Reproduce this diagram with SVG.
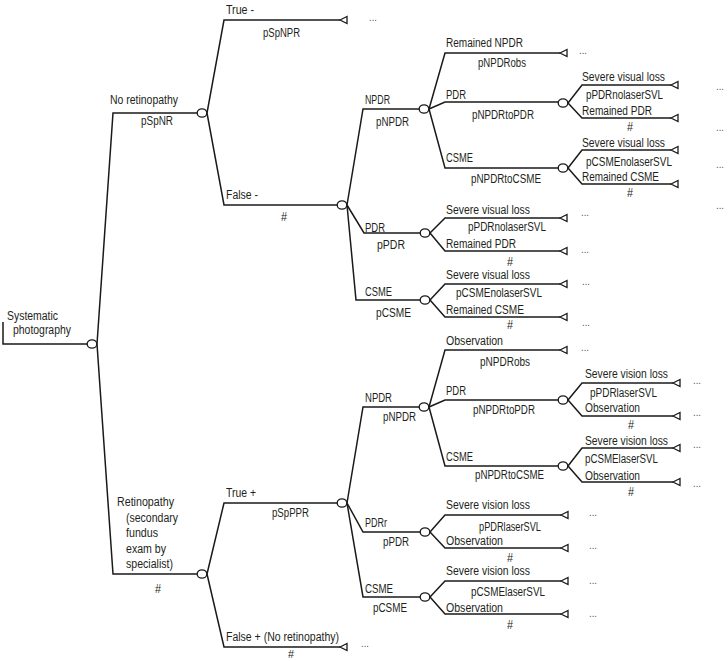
<svg xmlns="http://www.w3.org/2000/svg" xmlns:xlink="http://www.w3.org/1999/xlink" width="728" height="661" viewBox="0 0 728 661">
<style>
  .bg{fill:#ffffff}
  .c{fill:none;stroke:#1a1a1a;stroke-width:1.5;stroke-linejoin:miter}
  .ch{fill:#ffffff;stroke:#1a1a1a;stroke-width:1.3}
  .tm{fill:#ffffff;stroke:#1a1a1a;stroke-width:1.3;stroke-linejoin:miter}
  text{font-family:"Liberation Sans","Arial",sans-serif;font-size:12.5px;fill:#231f20}
  .d{font-size:11px;fill:#555555}
  .s{font-size:11px}
</style>
<defs>
  <path id="tri" d="M0,0 L7,-3.5 L7,3.5 Z"/>
  <ellipse id="chance" cx="0" cy="0" rx="4.8" ry="4.2"/>
</defs>
<rect class="bg" x="0" y="0" width="728" height="661"/>

<g id="connectors">
  <path class="c" d="M3,322 V344 H87"/>
  <path class="c" d="M97,344 L113,113 H197"/>
  <path class="c" d="M97,344 L113,574 H197"/>
  <path class="c" d="M207,113 L224,20 H340"/>
  <path class="c" d="M207,113 L224,205 H337"/>
  <path class="c" d="M347,205 L363,109 H419"/>
  <path class="c" d="M347,205 L364,233 H420"/>
  <path class="c" d="M347,205 L356,300 H420"/>
  <path class="c" d="M429,109 L445,53 H560"/>
  <path class="c" d="M429,109 L445,102 H558"/>
  <path class="c" d="M429,109 L445,168 H558"/>
  <path class="c" d="M568,103 L582,85 H671"/>
  <path class="c" d="M568,103 L582,118 H671"/>
  <path class="c" d="M568,168 L582,150 H671"/>
  <path class="c" d="M568,168 L582,184 H671"/>
  <path class="c" d="M430,233 L445,218 H560"/>
  <path class="c" d="M430,233 L445,251 H560"/>
  <path class="c" d="M430,300 L445,284 H560"/>
  <path class="c" d="M430,300 L445,317 H560"/>
  <path class="c" d="M207,574 L224,503 H337"/>
  <path class="c" d="M207,574 L224,647 H340"/>
  <path class="c" d="M347,503 L363,407 H419"/>
  <path class="c" d="M347,503 L363,532 H420"/>
  <path class="c" d="M347,503 L363,597 H420"/>
  <path class="c" d="M429,407 L445,350 H560"/>
  <path class="c" d="M429,407 L445,400 H558"/>
  <path class="c" d="M429,407 L445,466 H558"/>
  <path class="c" d="M568,400 L582,383 H673"/>
  <path class="c" d="M568,400 L582,416 H673"/>
  <path class="c" d="M568,466 L582,448 H673"/>
  <path class="c" d="M568,466 L582,482 H673"/>
  <path class="c" d="M430,532 L445,515 H561"/>
  <path class="c" d="M430,532 L445,548 H561"/>
  <path class="c" d="M430,597 L445,581 H561"/>
  <path class="c" d="M430,597 L445,614 H561"/>
</g>

<g id="labels">
  <text x="7" y="320" textLength="51" lengthAdjust="spacingAndGlyphs">Systematic</text>
  <text x="13" y="334" textLength="58" lengthAdjust="spacingAndGlyphs">photography</text>

  <text x="110" y="104" textLength="68" lengthAdjust="spacingAndGlyphs">No retinopathy</text>
  <text x="141" y="125" textLength="32" lengthAdjust="spacingAndGlyphs">pSpNR</text>
  <text x="226" y="14" textLength="28" lengthAdjust="spacingAndGlyphs">True -</text>
  <text x="263" y="37" textLength="37" lengthAdjust="spacingAndGlyphs">pSpNPR</text>
  <text x="226" y="199" textLength="32" lengthAdjust="spacingAndGlyphs">False -</text>
  <text x="281" y="221" textLength="6" lengthAdjust="spacingAndGlyphs">#</text>

  <text x="365" y="104" textLength="25" lengthAdjust="spacingAndGlyphs">NPDR</text>
  <text x="376" y="126" textLength="33" lengthAdjust="spacingAndGlyphs">pNPDR</text>
  <text x="365" y="232" textLength="20" lengthAdjust="spacingAndGlyphs">PDR</text>
  <text x="377" y="249" textLength="28" lengthAdjust="spacingAndGlyphs">pPDR</text>
  <text x="365" y="296" textLength="27" lengthAdjust="spacingAndGlyphs">CSME</text>
  <text x="376" y="317" textLength="35" lengthAdjust="spacingAndGlyphs">pCSME</text>

  <text x="446" y="47" textLength="77" lengthAdjust="spacingAndGlyphs">Remained NPDR</text>
  <text x="478" y="67" textLength="48" lengthAdjust="spacingAndGlyphs">pNPDRobs</text>
  <text x="446" y="99" textLength="20" lengthAdjust="spacingAndGlyphs">PDR</text>
  <text x="472" y="119" textLength="62" lengthAdjust="spacingAndGlyphs">pNPDRtoPDR</text>
  <text x="446" y="162" textLength="27" lengthAdjust="spacingAndGlyphs">CSME</text>
  <text x="471" y="183" textLength="70" lengthAdjust="spacingAndGlyphs">pNPDRtoCSME</text>

  <text x="582" y="81" textLength="83" lengthAdjust="spacingAndGlyphs">Severe visual loss</text>
  <text x="586" y="99" textLength="77" lengthAdjust="spacingAndGlyphs">pPDRnolaserSVL</text>
  <text x="582" y="115" textLength="70" lengthAdjust="spacingAndGlyphs">Remained PDR</text>
  <text x="627" y="131" textLength="6" lengthAdjust="spacingAndGlyphs">#</text>
  <text x="582" y="147" textLength="83" lengthAdjust="spacingAndGlyphs">Severe visual loss</text>
  <text x="586" y="166" textLength="86" lengthAdjust="spacingAndGlyphs">pCSMEnolaserSVL</text>
  <text x="582" y="181" textLength="77" lengthAdjust="spacingAndGlyphs">Remained CSME</text>
  <text x="627" y="197" textLength="6" lengthAdjust="spacingAndGlyphs">#</text>

  <text x="446" y="214" textLength="84" lengthAdjust="spacingAndGlyphs">Severe visual loss</text>
  <text x="468" y="231" textLength="78" lengthAdjust="spacingAndGlyphs">pPDRnolaserSVL</text>
  <text x="446" y="248" textLength="70" lengthAdjust="spacingAndGlyphs">Remained PDR</text>
  <text x="507" y="266" textLength="6" lengthAdjust="spacingAndGlyphs">#</text>
  <text x="446" y="279" textLength="84" lengthAdjust="spacingAndGlyphs">Severe visual loss</text>
  <text x="456" y="297" textLength="86" lengthAdjust="spacingAndGlyphs">pCSMEnolaserSVL</text>
  <text x="446" y="314" textLength="78" lengthAdjust="spacingAndGlyphs">Remained CSME</text>
  <text x="507" y="329" textLength="6" lengthAdjust="spacingAndGlyphs">#</text>

  <text x="117" y="506" textLength="57" lengthAdjust="spacingAndGlyphs">Retinopathy</text>
  <text x="126" y="522" textLength="52" lengthAdjust="spacingAndGlyphs">(secondary</text>
  <text x="126" y="537" textLength="32" lengthAdjust="spacingAndGlyphs">fundus</text>
  <text x="126" y="553" textLength="40" lengthAdjust="spacingAndGlyphs">exam by</text>
  <text x="126" y="568" textLength="47" lengthAdjust="spacingAndGlyphs">specialist)</text>
  <text x="155" y="593" textLength="6" lengthAdjust="spacingAndGlyphs">#</text>
  <text x="226" y="497" textLength="30" lengthAdjust="spacingAndGlyphs">True +</text>
  <text x="272" y="517" textLength="37" lengthAdjust="spacingAndGlyphs">pSpPPR</text>
  <text x="226" y="641" textLength="113" lengthAdjust="spacingAndGlyphs">False + (No retinopathy)</text>
  <text class="s" x="288" y="658" textLength="6" lengthAdjust="spacingAndGlyphs">#</text>

  <text x="365" y="402" textLength="27" lengthAdjust="spacingAndGlyphs">NPDR</text>
  <text x="383" y="421" textLength="33" lengthAdjust="spacingAndGlyphs">pNPDR</text>
  <text x="365" y="527" textLength="22" lengthAdjust="spacingAndGlyphs">PDRr</text>
  <text x="383" y="546" textLength="26" lengthAdjust="spacingAndGlyphs">pPDR</text>
  <text x="365" y="593" textLength="28" lengthAdjust="spacingAndGlyphs">CSME</text>
  <text x="373" y="612" textLength="34" lengthAdjust="spacingAndGlyphs">pCSME</text>

  <text x="446" y="345" textLength="57" lengthAdjust="spacingAndGlyphs">Observation</text>
  <text x="480" y="366" textLength="50" lengthAdjust="spacingAndGlyphs">pNPDRobs</text>
  <text x="446" y="395" textLength="20" lengthAdjust="spacingAndGlyphs">PDR</text>
  <text x="473" y="414" textLength="62" lengthAdjust="spacingAndGlyphs">pNPDRtoPDR</text>
  <text x="446" y="461" textLength="27" lengthAdjust="spacingAndGlyphs">CSME</text>
  <text x="475" y="479" textLength="69" lengthAdjust="spacingAndGlyphs">pNPDRtoCSME</text>

  <text x="585" y="378" textLength="83" lengthAdjust="spacingAndGlyphs">Severe vision loss</text>
  <text x="590" y="397" textLength="67" lengthAdjust="spacingAndGlyphs">pPDRlaserSVL</text>
  <text x="585" y="412" textLength="55" lengthAdjust="spacingAndGlyphs">Observation</text>
  <text x="628" y="429" textLength="6" lengthAdjust="spacingAndGlyphs">#</text>
  <text x="585" y="445" textLength="83" lengthAdjust="spacingAndGlyphs">Severe vision loss</text>
  <text x="585" y="463" textLength="73" lengthAdjust="spacingAndGlyphs">pCSMElaserSVL</text>
  <text x="585" y="480" textLength="55" lengthAdjust="spacingAndGlyphs">Observation</text>
  <text x="628" y="496" textLength="6" lengthAdjust="spacingAndGlyphs">#</text>

  <text x="446" y="509" textLength="84" lengthAdjust="spacingAndGlyphs">Severe vision loss</text>
  <text x="479" y="531" textLength="62" lengthAdjust="spacingAndGlyphs">pPDRlaserSVL</text>
  <text x="446" y="545" textLength="57" lengthAdjust="spacingAndGlyphs">Observation</text>
  <text x="507" y="562" textLength="6" lengthAdjust="spacingAndGlyphs">#</text>
  <text x="446" y="575" textLength="84" lengthAdjust="spacingAndGlyphs">Severe vision loss</text>
  <text x="471" y="596" textLength="74" lengthAdjust="spacingAndGlyphs">pCSMElaserSVL</text>
  <text x="446" y="612" textLength="57" lengthAdjust="spacingAndGlyphs">Observation</text>
  <text x="507" y="629" textLength="6" lengthAdjust="spacingAndGlyphs">#</text>
</g>

<g id="chance-nodes">
  <g id="n-root"><use href="#chance" class="ch" x="92" y="344"/></g>
  <g id="n-noretino"><use href="#chance" class="ch" x="202" y="113"/></g>
  <g id="n-false-neg"><use href="#chance" class="ch" x="342" y="205"/></g>
  <g id="n-npdr1"><use href="#chance" class="ch" x="424" y="109"/></g>
  <g id="n-npdr1-pdr"><use href="#chance" class="ch" x="563" y="103"/></g>
  <g id="n-npdr1-csme"><use href="#chance" class="ch" x="563" y="168"/></g>
  <g id="n-pdr1"><use href="#chance" class="ch" x="425" y="233"/></g>
  <g id="n-csme1"><use href="#chance" class="ch" x="425" y="300"/></g>
  <g id="n-retino"><use href="#chance" class="ch" x="202" y="574"/></g>
  <g id="n-true-pos"><use href="#chance" class="ch" x="342" y="503"/></g>
  <g id="n-npdr2"><use href="#chance" class="ch" x="424" y="407"/></g>
  <g id="n-npdr2-pdr"><use href="#chance" class="ch" x="563" y="400"/></g>
  <g id="n-npdr2-csme"><use href="#chance" class="ch" x="563" y="466"/></g>
  <g id="n-pdr2"><use href="#chance" class="ch" x="425" y="532"/></g>
  <g id="n-csme2"><use href="#chance" class="ch" x="425" y="597"/></g>
</g>

<g id="terminal-nodes">
  <g id="t1"><use href="#tri" class="tm" x="340" y="20"/><text class="d" x="369" y="21" textLength="8" lengthAdjust="spacingAndGlyphs">...</text></g>
  <g id="t2"><use href="#tri" class="tm" x="560" y="53"/><text class="d" x="579" y="54" textLength="8" lengthAdjust="spacingAndGlyphs">...</text></g>
  <g id="t3"><use href="#tri" class="tm" x="671" y="85"/><text class="d" x="716" y="90" textLength="8" lengthAdjust="spacingAndGlyphs">...</text></g>
  <g id="t4"><use href="#tri" class="tm" x="671" y="118"/><text class="d" x="716" y="131" textLength="8" lengthAdjust="spacingAndGlyphs">...</text></g>
  <g id="t5"><use href="#tri" class="tm" x="671" y="150"/><text class="d" x="716" y="168" textLength="8" lengthAdjust="spacingAndGlyphs">...</text></g>
  <g id="t6"><use href="#tri" class="tm" x="671" y="184"/><text class="d" x="716" y="209" textLength="8" lengthAdjust="spacingAndGlyphs">...</text></g>
  <g id="t7"><use href="#tri" class="tm" x="560" y="218"/><text class="d" x="581" y="216" textLength="8" lengthAdjust="spacingAndGlyphs">...</text></g>
  <g id="t8"><use href="#tri" class="tm" x="560" y="251"/><text class="d" x="581" y="253" textLength="8" lengthAdjust="spacingAndGlyphs">...</text></g>
  <g id="t9"><use href="#tri" class="tm" x="560" y="284"/><text class="d" x="582" y="285" textLength="8" lengthAdjust="spacingAndGlyphs">...</text></g>
  <g id="t10"><use href="#tri" class="tm" x="560" y="317"/><text class="d" x="582" y="326" textLength="8" lengthAdjust="spacingAndGlyphs">...</text></g>
  <g id="t11"><use href="#tri" class="tm" x="560" y="350"/><text class="d" x="581" y="351" textLength="8" lengthAdjust="spacingAndGlyphs">...</text></g>
  <g id="t12"><use href="#tri" class="tm" x="673" y="383"/><text class="d" x="693" y="384" textLength="8" lengthAdjust="spacingAndGlyphs">...</text></g>
  <g id="t13"><use href="#tri" class="tm" x="673" y="416"/><text class="d" x="693" y="416" textLength="8" lengthAdjust="spacingAndGlyphs">...</text></g>
  <g id="t14"><use href="#tri" class="tm" x="673" y="448"/><text class="d" x="693" y="448" textLength="8" lengthAdjust="spacingAndGlyphs">...</text></g>
  <g id="t15"><use href="#tri" class="tm" x="673" y="482"/><text class="d" x="693" y="487" textLength="8" lengthAdjust="spacingAndGlyphs">...</text></g>
  <g id="t16"><use href="#tri" class="tm" x="561" y="515"/><text class="d" x="589" y="516" textLength="8" lengthAdjust="spacingAndGlyphs">...</text></g>
  <g id="t17"><use href="#tri" class="tm" x="561" y="548"/><text class="d" x="589" y="549" textLength="8" lengthAdjust="spacingAndGlyphs">...</text></g>
  <g id="t18"><use href="#tri" class="tm" x="561" y="581"/><text class="d" x="589" y="584" textLength="8" lengthAdjust="spacingAndGlyphs">...</text></g>
  <g id="t19"><use href="#tri" class="tm" x="561" y="614"/><text class="d" x="589" y="617" textLength="8" lengthAdjust="spacingAndGlyphs">...</text></g>
  <g id="t20"><use href="#tri" class="tm" x="340" y="647"/><text class="d" x="361" y="647" textLength="8" lengthAdjust="spacingAndGlyphs">...</text></g>
</g>
</svg>
